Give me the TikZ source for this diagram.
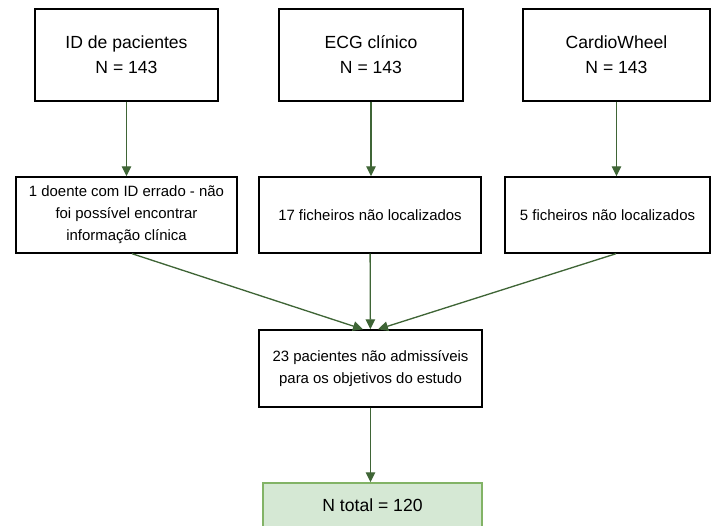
\documentclass[tikz,border=0pt]{standalone}
\usepackage{fontspec}
\setmainfont{Liberation Sans}
\usetikzlibrary{arrows.meta,positioning}
\definecolor{flowgreen}{HTML}{3F6536}
\definecolor{totalfill}{HTML}{D5E8D4}
\definecolor{totaldraw}{HTML}{82B366}
\tikzset{
  countbox/.style={rectangle,draw=black,fill=white,line width=0.8pt,align=center,
    inner sep=0pt,minimum height=1.84cm,font=\fontsize{10}{14.2}\selectfont},
  lossbox/.style={rectangle,draw=black,fill=white,line width=0.8pt,align=center,
    inner sep=0pt,minimum height=1.52cm,font=\fontsize{8.5}{12.5}\selectfont},
  totalbox/.style={rectangle,draw=totaldraw,fill=totalfill,line width=0.8pt,align=center,
    inner sep=0pt,minimum height=0.9cm,font=\fontsize{10}{14}\selectfont},
  flowarrow/.style={-{Triangle[length=0.2cm,width=0.19cm]},line width=0.75pt,draw=flowgreen,fill=flowgreen,#1},
  flowarrow/.default={},
}
\begin{document}
\begin{tikzpicture}
  \useasboundingbox (0,0) rectangle (14.26,-10.52);
  \clip (0,0) rectangle (14.26,-10.52);
  % sources
  \node[countbox,minimum width=3.66cm] (ids) at (2.53,-1.10) {ID de pacientes\\N = 143};
  \node[countbox,minimum width=3.68cm] (ecg) at (7.42,-1.10) {ECG clínico\\N = 143};
  \node[countbox,minimum width=3.74cm] (cw)  at (12.33,-1.10) {CardioWheel\\N = 143};
  % exclusions
  \node[lossbox,minimum width=4.42cm] (idloss)  at (2.53,-4.30) {1 doente com ID errado - não\\foi possível encontrar\\informação clínica};
  \node[lossbox,minimum width=4.44cm] (ecgloss) at (7.40,-4.30) {17 ficheiros não localizados};
  \node[lossbox,minimum width=4.10cm] (cwloss)  at (12.15,-4.30) {5 ficheiros não localizados};
  \node[lossbox,minimum width=4.46cm,minimum height=1.54cm] (excl) at (7.41,-7.37) {23 pacientes não admissíveis\\para os objetivos do estudo};
  \node[totalbox,minimum width=4.38cm] (total) at (7.45,-10.11) {N total = 120};
  \draw[flowarrow] (ids) -- (idloss);
  \draw[flowarrow] (ecg.south) -- (ecg.south |- ecgloss.north);
  \draw[flowarrow] (cw.south) -- (cw.south |- cwloss.north);
  \draw[flowarrow] ([xshift=0.11cm]idloss.south) -- ([xshift=-0.15cm]excl.north);
  \draw[flowarrow] (ecgloss) -- (excl);
  \draw[flowarrow] ([xshift=0.17cm]cwloss.south) -- ([xshift=0.15cm]excl.north);
  \draw[flowarrow] (excl.south) -- (excl.south |- total.north);
\end{tikzpicture}
\end{document}
